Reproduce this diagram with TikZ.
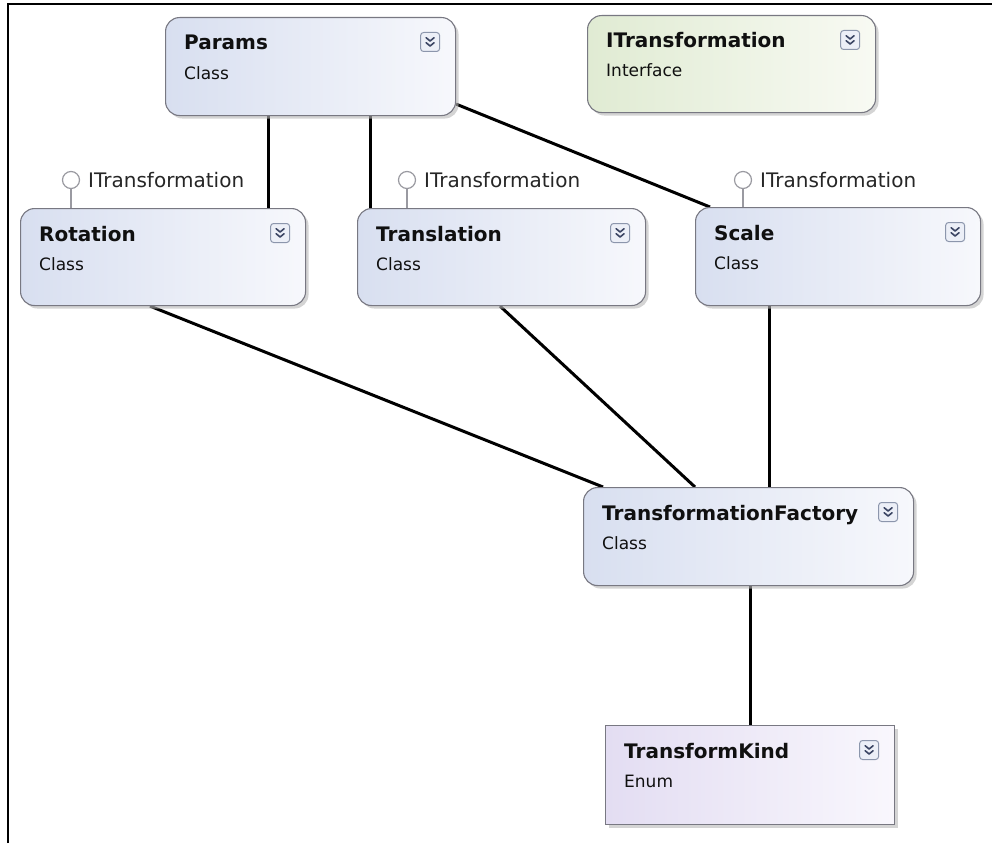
\documentclass[tikz,border=0pt]{standalone}
\usepackage{fontspec}
\setmainfont{DejaVu Sans}
\usetikzlibrary{shadows,calc}
\pgfdeclarelayer{background}
\pgfdeclarelayer{canvas}
\pgfsetlayers{canvas,background,main}
\definecolor{clsL}{RGB}{216,223,240}
\definecolor{clsR}{RGB}{247,248,252}
\definecolor{ifcL}{RGB}{224,235,211}
\definecolor{ifcR}{RGB}{248,250,243}
\definecolor{enmL}{RGB}{227,221,242}
\definecolor{enmR}{RGB}{249,247,253}
\definecolor{bordergray}{RGB}{120,120,130}
\definecolor{icongray}{RGB}{140,150,172}
\definecolor{iconfill}{RGB}{236,239,247}
\definecolor{chev}{RGB}{60,70,100}
\definecolor{txt}{RGB}{16,16,16}
\tikzset{
  box/.style={rectangle, rounded corners=14pt, draw=bordergray, line width=1.1pt,
    inner sep=0pt, anchor=north west,
    drop shadow={shadow xshift=3pt, shadow yshift=-3pt, fill=black!28, opacity=0.6}},
  classbox/.style={box, left color=clsL, right color=clsR},
  ifacebox/.style={box, left color=ifcL, right color=ifcR},
  enumbox/.style={box, rounded corners=0pt, left color=enmL, right color=enmR},
  titletext/.style={anchor=base west, inner sep=0pt, text=txt,
    font=\bfseries\fontsize{20}{23}\selectfont},
  subtext/.style={anchor=base west, inner sep=0pt, text=txt,
    font=\fontsize{17}{20}\selectfont},
  lolli/.style={circle, draw=bordergray!75, line width=1.2pt, fill=white, minimum size=17pt, inner sep=0pt},
  lollilabel/.style={anchor=base west, inner sep=0pt, text=black!85,
    font=\fontsize{20}{23}\selectfont},
  iconbox/.style={rectangle, rounded corners=3pt, draw=icongray, fill=iconfill,
    line width=1pt, minimum size=19pt, inner sep=0pt},
  chevline/.style={draw=chev, line width=1.6pt, line cap=round, line join=round},
  conn/.style={line width=3pt, black}
}
\newcommand{\xpicon}[2]{%
  \node[iconbox] (#1) at ([xshift=-26pt,yshift=-25pt]#2.north east) {};
  \draw[chevline] ([xshift=-4pt,yshift=4.3pt]#1.center) -- ([yshift=1pt]#1.center) -- ([xshift=4pt,yshift=4.3pt]#1.center);
  \draw[chevline] ([xshift=-4pt,yshift=-0.7pt]#1.center) -- ([yshift=-4pt]#1.center) -- ([xshift=4pt,yshift=-0.7pt]#1.center);
}
\newcommand{\boxtexts}[3]{%
  \node[titletext] (#1-title) at ([xshift=19pt,yshift=-33pt]#1.north west) {#2};
  \node[subtext] (#1-sub) at ([xshift=19pt,yshift=-62pt]#1.north west) {#3};
}
\begin{document}
\begin{tikzpicture}[x=1pt,y=-1pt]
\useasboundingbox (0,0) rectangle (992,843);
\begin{pgfonlayer}{canvas}
\fill[white] (0,0) rectangle (992,843);
\end{pgfonlayer}
% frame
\draw[line width=2pt] (8,843) -- (8,4) -- (992,4);

% boxes
\node[classbox, minimum width=290pt, minimum height=98pt] (params) at (165,17) {};
\node[ifacebox, minimum width=288pt, minimum height=97pt] (itrans) at (587,15) {};
\node[classbox, minimum width=285pt, minimum height=97pt] (rot) at (20,208) {};
\node[classbox, minimum width=288pt, minimum height=97pt] (trans) at (357,208) {};
\node[classbox, minimum width=285pt, minimum height=98pt] (scale) at (695,207) {};
\node[classbox, minimum width=330pt, minimum height=98pt] (fact) at (583,487) {};
\node[enumbox, minimum width=289pt, minimum height=99pt] (kind) at (605,725) {};

\boxtexts{params}{Params}{Class}
\boxtexts{itrans}{ITransformation}{Interface}
\boxtexts{rot}{Rotation}{Class}
\boxtexts{trans}{Translation}{Class}
\boxtexts{scale}{Scale}{Class}
\boxtexts{fact}{TransformationFactory}{Class}
\boxtexts{kind}{TransformKind}{Enum}

\xpicon{params-x}{params}
\xpicon{itrans-x}{itrans}
\xpicon{rot-x}{rot}
\xpicon{trans-x}{trans}
\xpicon{scale-x}{scale}
\xpicon{fact-x}{fact}
\xpicon{kind-x}{kind}

% lollipops
\node[lolli] (rot-l) at (71,180) {};
\node[lolli] (trans-l) at (407,180) {};
\node[lolli] (scale-l) at (743,180) {};
\begin{pgfonlayer}{background}
\draw[bordergray!75, line width=1.2pt] (rot-l.south) -- (rot-l.south |- rot.north);
\draw[bordergray!75, line width=1.2pt] (trans-l.south) -- (trans-l.south |- trans.north);
\draw[bordergray!75, line width=1.2pt] (scale-l.south) -- (scale-l.south |- scale.north);
\end{pgfonlayer}
\node[lollilabel] (rot-ll) at ([xshift=17pt,yshift=-7pt]rot-l.center) {ITransformation};
\node[lollilabel] (trans-ll) at ([xshift=17pt,yshift=-7pt]trans-l.center) {ITransformation};
\node[lollilabel] (scale-ll) at ([xshift=17pt,yshift=-7pt]scale-l.center) {ITransformation};

% connectors
\begin{pgfonlayer}{background}
\draw[conn] ([xshift=103pt]params.south west) -- ([xshift=248pt]rot.north west);
\draw[conn] ([xshift=205pt]params.south west) -- ([xshift=13pt]trans.north west);
\draw[conn] ([yshift=12pt]params.south east) -- ([xshift=15pt]scale.north west);
\draw[conn] ([xshift=130pt]rot.south west) -- ([xshift=20pt]fact.north west);
\draw[conn] ([xshift=143pt]trans.south west) -- ([xshift=112pt]fact.north west);
\draw[conn] ([xshift=74pt]scale.south west) -- ([xshift=186pt]fact.north west);
\draw[conn] ([xshift=167pt]fact.south west) -- ([xshift=145pt]kind.north west);
\end{pgfonlayer}
\end{tikzpicture}
\end{document}
